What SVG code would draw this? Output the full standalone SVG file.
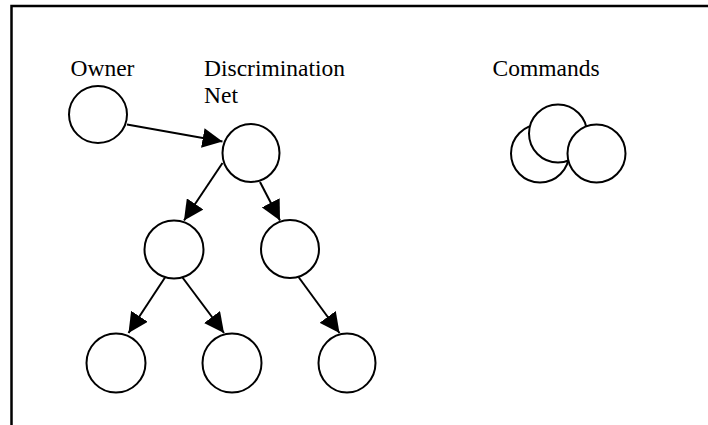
<svg xmlns="http://www.w3.org/2000/svg" width="708" height="425" viewBox="0 0 708 425">
<style>
.n{fill:#fff;stroke:#000;stroke-width:2}
.e{stroke:#000;stroke-width:2;fill:none;marker-end:url(#ah)}
.t{font-family:"Liberation Serif","Times New Roman",serif;font-size:23.5px;fill:#000}
.b{stroke:#000;stroke-width:2.5;fill:none}
</style>
<defs>
<marker id="ah" markerUnits="userSpaceOnUse" markerWidth="20" markerHeight="20" refX="20" refY="10" orient="auto" viewBox="0 0 20 20">
<path d="M0,0 L20,10 L0,20 z" fill="#000"/>
</marker>
</defs>
<rect width="708" height="425" fill="#fff"/>
<path class="b" d="M11.5,425 L11.5,6 L708,6"/>
<g id="labels">
<text class="t" x="70.5" y="76">Owner</text>
<text class="t" x="204" y="76">Discrimination</text>
<text class="t" x="204" y="103">Net</text>
<text class="t" x="492.5" y="76">Commands</text>
</g>
<g id="connectors">
<line class="e" x1="127" y1="124.5" x2="222.5" y2="141.5"/>
<line class="e" x1="222.5" y1="163" x2="184" y2="220.5"/>
<line class="e" x1="260" y1="182" x2="280" y2="220.5"/>
<line class="e" x1="165" y1="277.5" x2="128.5" y2="333"/>
<line class="e" x1="182.5" y1="277.5" x2="224" y2="333"/>
<line class="e" x1="298.5" y1="277" x2="339.5" y2="333"/>
</g>
<g id="owner"><ellipse class="n" cx="98" cy="114.5" rx="29" ry="28.5"/></g>
<g id="net-root"><ellipse class="n" cx="251" cy="153" rx="28.5" ry="29"/></g>
<g id="net-l"><ellipse class="n" cx="174" cy="249.5" rx="29.5" ry="29"/></g>
<g id="net-r"><ellipse class="n" cx="290" cy="249" rx="29" ry="29"/></g>
<g id="net-ll"><ellipse class="n" cx="116" cy="363" rx="29.5" ry="29.5"/></g>
<g id="net-lr"><ellipse class="n" cx="232" cy="363" rx="29.5" ry="29.5"/></g>
<g id="net-rr"><ellipse class="n" cx="347" cy="363" rx="28.5" ry="29.5"/></g>
<g id="commands">
<circle class="n" cx="540" cy="153.5" r="29"/>
<circle class="n" cx="558" cy="133.5" r="29"/>
<circle class="n" cx="596.5" cy="153.5" r="29"/>
</g>
</svg>
